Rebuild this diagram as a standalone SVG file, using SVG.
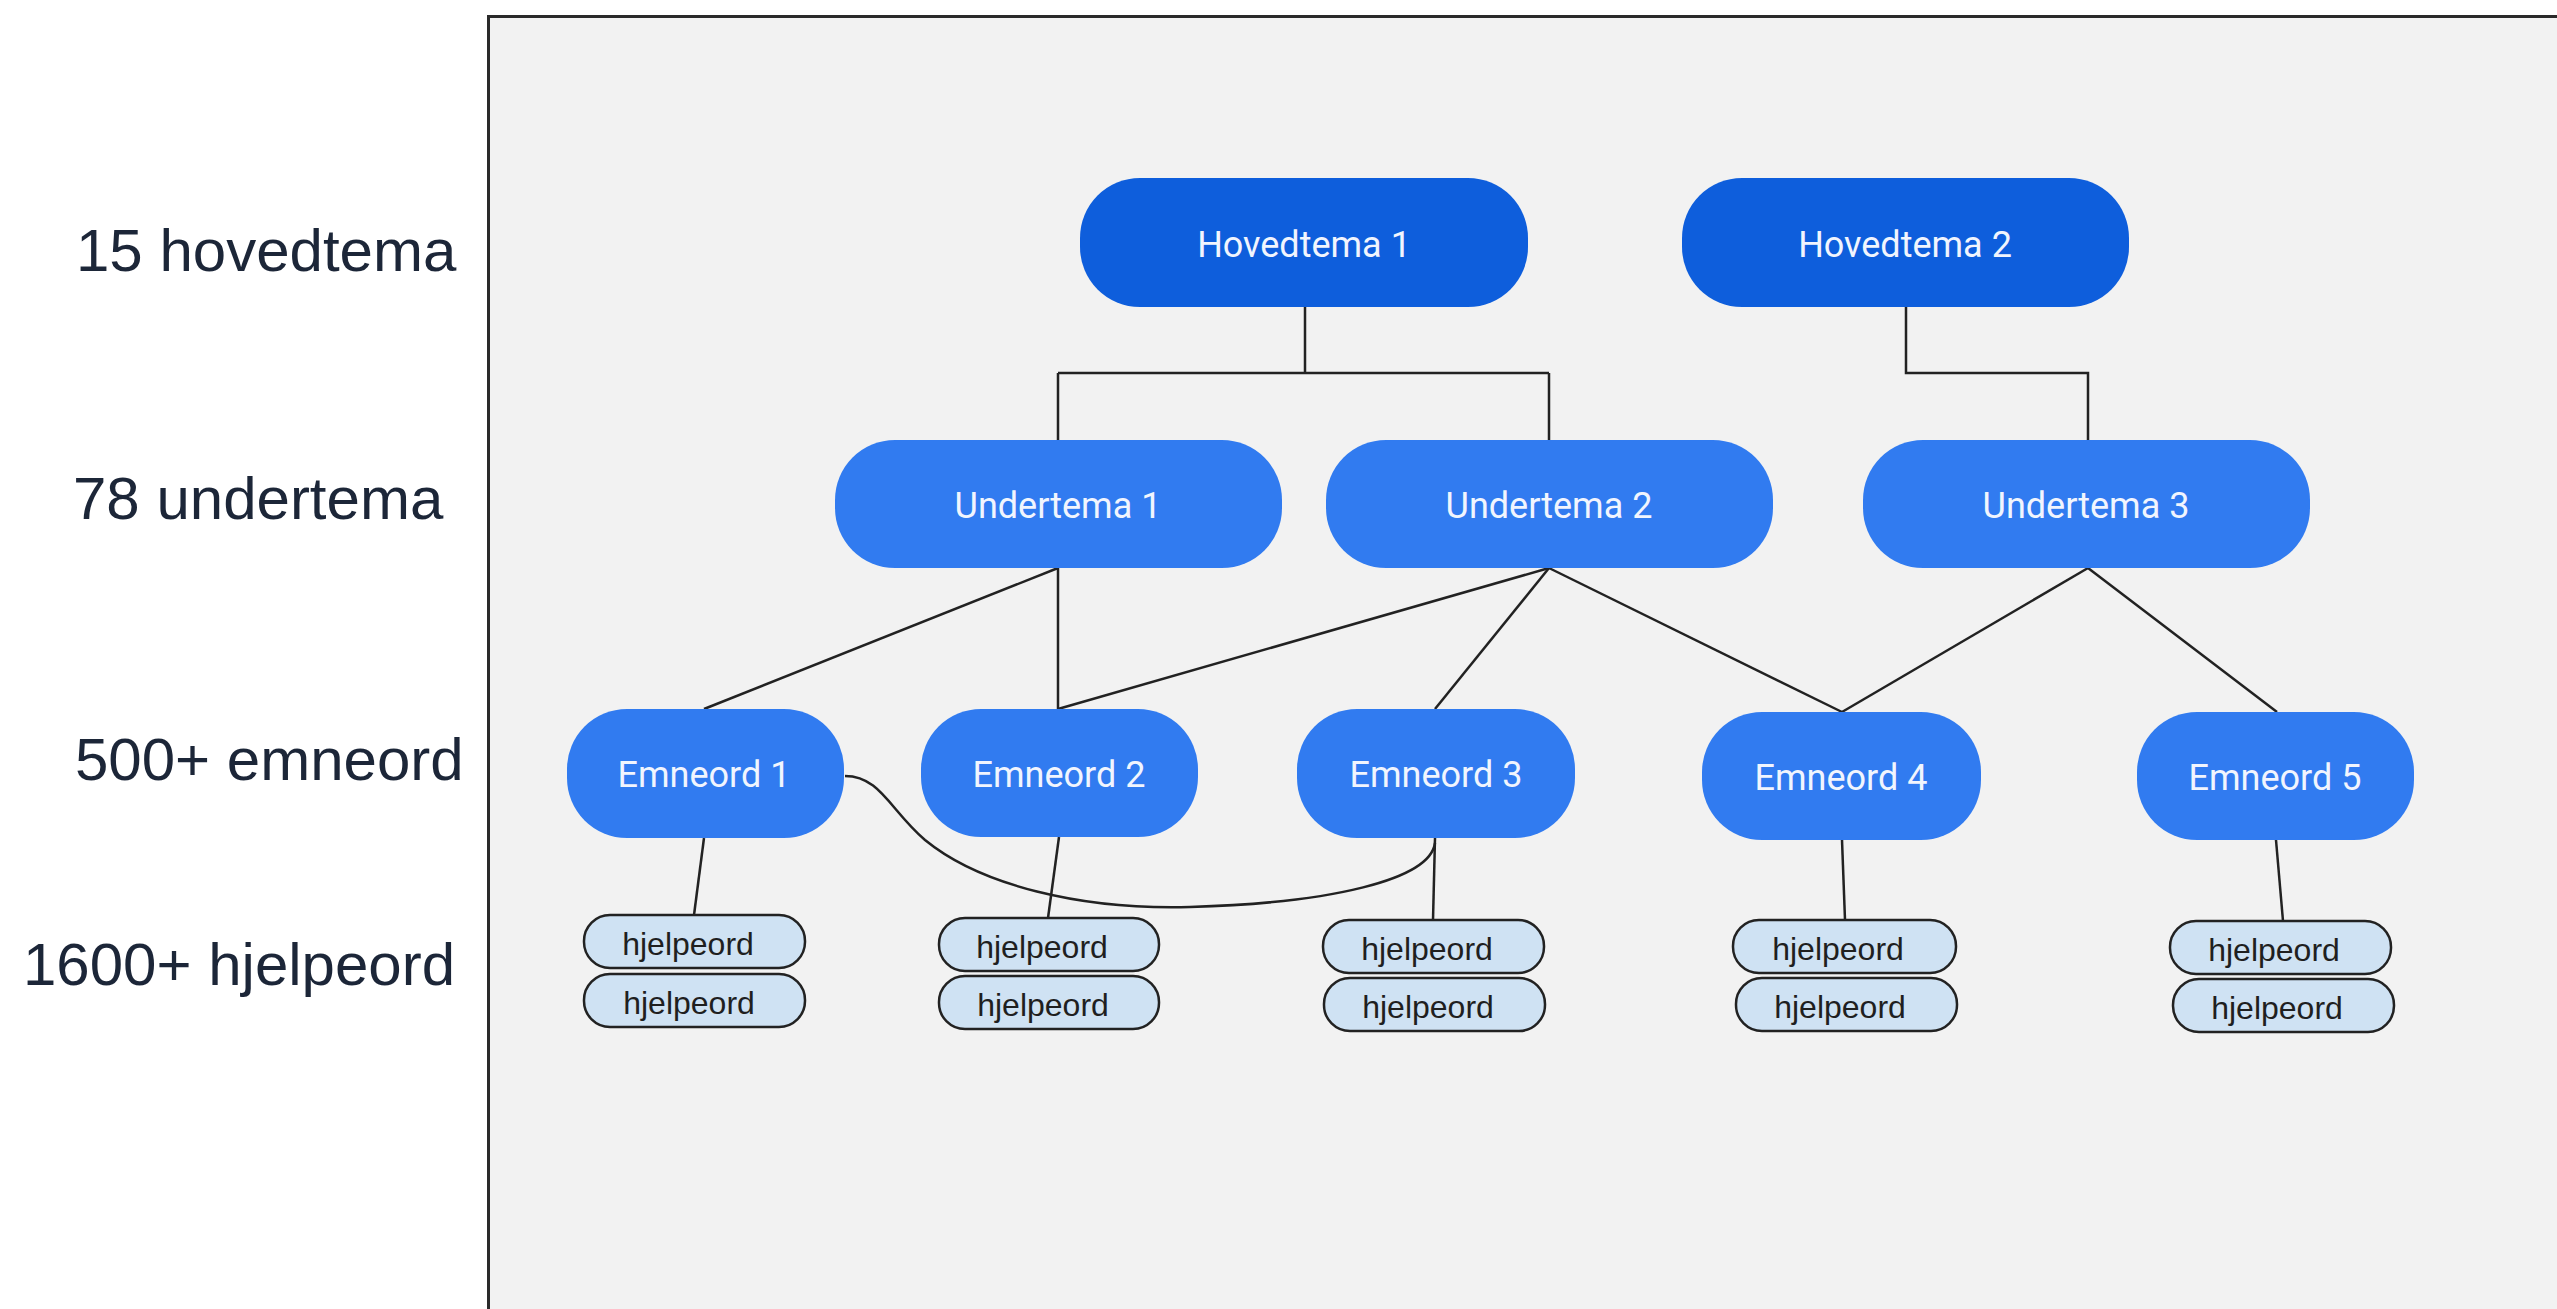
<svg xmlns="http://www.w3.org/2000/svg" width="2557" height="1309" viewBox="0 0 2557 1309">
<defs>
<style>
.lvl{font-family:"Liberation Sans",Arial,sans-serif;font-size:60px;fill:#1c2638}
.main rect{fill:#0e5edc}
.sub rect,.kw rect{fill:#317bf0}
.main text,.sub text,.kw text{font-family:Roboto,"Liberation Sans",sans-serif;font-size:36px;fill:#f1f5fe;text-anchor:middle}
.hj rect{fill:#cfe2f3;stroke:#222;stroke-width:2.5}
.hj text{font-family:"Liberation Sans",Arial,sans-serif;font-size:32px;fill:#1f1f1f;text-anchor:middle}
#connectors path,#connectors line{fill:none;stroke:#222;stroke-width:2.5}
</style>
</defs>
<rect x="0" y="0" width="2557" height="1309" fill="#ffffff"/>
<rect x="488.5" y="16.5" width="2200" height="1400" fill="#f2f2f2" stroke="#2a2a2a" stroke-width="3"/>

<g id="level-labels">
<text class="lvl" x="76" y="271">15 hovedtema</text>
<text class="lvl" x="73" y="519">78 undertema</text>
<text class="lvl" x="75" y="780">500+ emneord</text>
<text class="lvl" x="23" y="985">1600+ hjelpeord</text>
</g>

<g id="connectors">
<path d="M1305 307 V373 M1058 373 H1549 M1058 373 V440 M1549 373 V440"/>
<path d="M1906 307 V373 H2088 V440"/>
<line x1="1058" y1="568" x2="704" y2="709"/>
<line x1="1058" y1="568" x2="1058" y2="709"/>
<line x1="1549" y1="568" x2="1058" y2="709"/>
<line x1="1549" y1="568" x2="1435" y2="709"/>
<line x1="1549" y1="568" x2="1842" y2="712"/>
<line x1="2088" y1="568" x2="1842" y2="712"/>
<line x1="2088" y1="568" x2="2277" y2="712"/>
<path d="M845 776 C880 776 890 810 925 840 C980 885 1080 910 1190 907 C1330 903 1430 880 1435 843"/>
<line x1="704" y1="838" x2="694" y2="915"/>
<line x1="1059" y1="837" x2="1048" y2="918"/>
<line x1="1435" y1="838" x2="1433" y2="920"/>
<line x1="1842" y1="840" x2="1845" y2="920"/>
<line x1="2276" y1="840" x2="2283" y2="921"/>
</g>

<g id="hovedtema-1" class="main"><rect x="1080" y="178" width="448" height="129" rx="60"/><text x="1304" y="257">Hovedtema 1</text></g>
<g id="hovedtema-2" class="main"><rect x="1682" y="178" width="447" height="129" rx="60"/><text x="1905" y="257">Hovedtema 2</text></g>

<g id="undertema-1" class="sub"><rect x="835" y="440" width="447" height="128" rx="60"/><text x="1058" y="518">Undertema 1</text></g>
<g id="undertema-2" class="sub"><rect x="1326" y="440" width="447" height="128" rx="60"/><text x="1549" y="518">Undertema 2</text></g>
<g id="undertema-3" class="sub"><rect x="1863" y="440" width="447" height="128" rx="60"/><text x="2086" y="518">Undertema 3</text></g>

<g id="emneord-1" class="kw"><rect x="567" y="709" width="277" height="129" rx="60"/><text x="704" y="787">Emneord 1</text></g>
<g id="emneord-2" class="kw"><rect x="921" y="709" width="277" height="128" rx="60"/><text x="1059" y="787">Emneord 2</text></g>
<g id="emneord-3" class="kw"><rect x="1297" y="709" width="278" height="129" rx="60"/><text x="1436" y="787">Emneord 3</text></g>
<g id="emneord-4" class="kw"><rect x="1702" y="712" width="279" height="128" rx="60"/><text x="1841" y="790">Emneord 4</text></g>
<g id="emneord-5" class="kw"><rect x="2137" y="712" width="277" height="128" rx="60"/><text x="2275" y="790">Emneord 5</text></g>

<g id="hjelpeord-1a" class="hj"><rect x="584" y="915" width="221" height="53" rx="26"/><text x="688" y="955">hjelpeord</text></g>
<g id="hjelpeord-1b" class="hj"><rect x="584" y="974" width="221" height="53" rx="26"/><text x="689" y="1014">hjelpeord</text></g>
<g id="hjelpeord-2a" class="hj"><rect x="939" y="918" width="220" height="53" rx="26"/><text x="1042" y="958">hjelpeord</text></g>
<g id="hjelpeord-2b" class="hj"><rect x="939" y="976" width="220" height="53" rx="26"/><text x="1043" y="1016">hjelpeord</text></g>
<g id="hjelpeord-3a" class="hj"><rect x="1323" y="920" width="221" height="53" rx="26"/><text x="1427" y="960">hjelpeord</text></g>
<g id="hjelpeord-3b" class="hj"><rect x="1324" y="978" width="221" height="53" rx="26"/><text x="1428" y="1018">hjelpeord</text></g>
<g id="hjelpeord-4a" class="hj"><rect x="1733" y="920" width="223" height="53" rx="26"/><text x="1838" y="960">hjelpeord</text></g>
<g id="hjelpeord-4b" class="hj"><rect x="1736" y="978" width="221" height="53" rx="26"/><text x="1840" y="1018">hjelpeord</text></g>
<g id="hjelpeord-5a" class="hj"><rect x="2170" y="921" width="221" height="53" rx="26"/><text x="2274" y="961">hjelpeord</text></g>
<g id="hjelpeord-5b" class="hj"><rect x="2173" y="979" width="221" height="53" rx="26"/><text x="2277" y="1019">hjelpeord</text></g>
</svg>
